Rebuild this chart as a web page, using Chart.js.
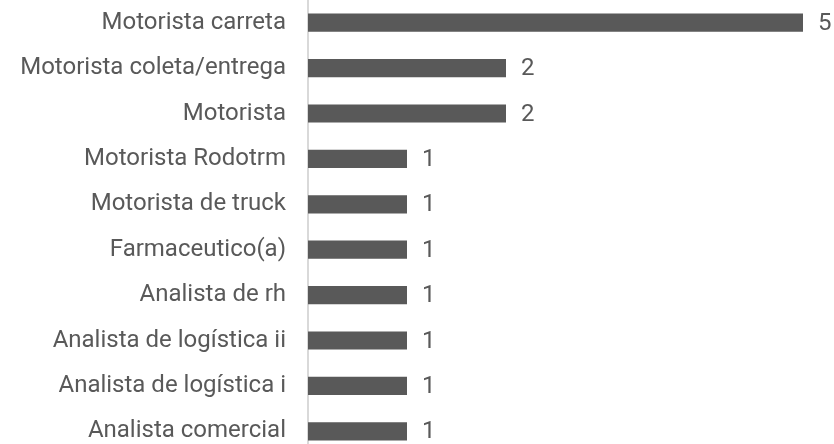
<!DOCTYPE html>
<html>
<head>
<meta charset="utf-8">
<script src="https://cdn.jsdelivr.net/npm/chart.js@4/dist/chart.umd.min.js"></script>
<style>
html,body{margin:0;padding:0;background:#fff;overflow:hidden;width:834px;height:444px;}
canvas{display:block;}
</style>
</head>
<body>
<canvas id="c" width="834" height="454"></canvas>
<script>
const categories = [
  "Motorista carreta",
  "Motorista coleta/entrega",
  "Motorista",
  "Motorista Rodotrm",
  "Motorista de truck",
  "Farmaceutico(a)",
  "Analista de rh",
  "Analista de logística ii",
  "Analista de logística i",
  "Analista comercial"
];
const counts = [5, 2, 2, 1, 1, 1, 1, 1, 1, 1];

const valueLabels = {
  id: 'valueLabels',
  afterDatasetsDraw(chart) {
    const ctx = chart.ctx;
    const meta = chart.getDatasetMeta(0);
    ctx.save();
    ctx.font = '24px Roboto';
    ctx.fillStyle = '#595959';
    ctx.textAlign = 'left';
    ctx.textBaseline = 'middle';
    meta.data.forEach((bar, i) => {
      ctx.fillText(String(counts[i]), bar.x + 15, bar.y + 1);
    });
    ctx.restore();
  }
};

new Chart(document.getElementById('c'), {
  type: 'bar',
  data: {
    labels: categories,
    datasets: [{
      data: counts,
      backgroundColor: '#595959',
      borderWidth: 0,
      barPercentage: 0.4,
      categoryPercentage: 1.0
    }]
  },
  options: {
    indexAxis: 'y',
    responsive: false,
    animation: false,
    layout: { padding: { left: 0, right: 31, top: 0, bottom: 0 } },
    plugins: { legend: { display: false }, tooltip: { enabled: false } },
    scales: {
      x: { display: false, min: 0, max: 5 },
      y: {
        afterFit(scale) { scale.width = 308; scale.paddingTop = 0; scale.paddingBottom = 0; },
        grid: { display: false },
        border: { display: true, color: '#d9d9d9', width: 2 },
        ticks: { color: '#595959', font: { family: 'Roboto', size: 24 }, padding: 14 }
      }
    }
  },
  plugins: [valueLabels]
});
</script>
</body>
</html>
